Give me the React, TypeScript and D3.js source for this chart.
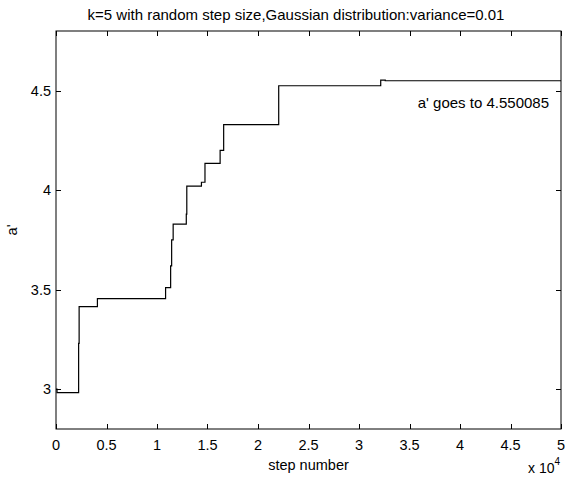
import React, { useEffect, useRef } from "react";
import * as d3 from "d3";

const stepNumbers = [0, 100, 2240, 2290, 4100, 10850, 11350, 11450, 11600, 12900, 12950, 14400, 14750, 16250, 16600, 22050, 32150, 32600, 50000];
const aValues = [3.0, 2.983, 3.23, 3.415, 3.455, 3.51, 3.62, 3.75, 3.83, 3.88, 4.02, 4.04, 4.135, 4.2, 4.33, 4.525, 4.553, 4.55, 4.55];
const xTicks = [0, 0.5, 1, 1.5, 2, 2.5, 3, 3.5, 4, 4.5, 5];
const yTicks = [3, 3.5, 4, 4.5];
const titleText = "k=5 with random step size,Gaussian distribution:variance=0.01";
const xLabel = "step number";
const yLabel = "a'";
const annotation = "a' goes to 4.550085";

const W = 565;
const H = 478;
const M = { left: 56, right: 4, top: 31, bottom: 49 };
const FONT = "'Liberation Sans', Arial, Helvetica, sans-serif";

export default function App() {
  const ref = useRef<SVGSVGElement>(null);
  useEffect(() => {
    const svg = d3.select(ref.current);
    svg.selectAll("*").remove();
    const x = d3.scaleLinear().domain([0, 5]).range([M.left, W - M.right]);
    const y = d3.scaleLinear().domain([2.8, 4.8]).range([H - M.bottom, M.top]);
    svg.append("rect").attr("width", W).attr("height", H).attr("fill", "#fff");

    const g = svg.append("g");
    const tl = 5;
    g.append("rect")
      .attr("x", x(0)).attr("y", y(4.8))
      .attr("width", x(5) - x(0)).attr("height", y(2.8) - y(4.8))
      .attr("fill", "none").attr("stroke", "#000").attr("stroke-width", 1);
    xTicks.forEach((t) => {
      const px = Math.round(x(t)) + 0.5;
      g.append("line").attr("x1", px).attr("x2", px).attr("y1", y(2.8)).attr("y2", y(2.8) - tl).attr("stroke", "#000");
      g.append("line").attr("x1", px).attr("x2", px).attr("y1", y(4.8)).attr("y2", y(4.8) + tl).attr("stroke", "#000");
      g.append("text").attr("x", x(t)).attr("y", y(2.8) + 21)
        .attr("text-anchor", "middle").attr("font-family", FONT).attr("font-size", 14.5).attr("fill", "#000")
        .text(String(t));
    });
    yTicks.forEach((t) => {
      const py = Math.round(y(t)) + 0.5;
      g.append("line").attr("x1", x(0)).attr("x2", x(0) + tl).attr("y1", py).attr("y2", py).attr("stroke", "#000");
      g.append("line").attr("x1", x(5)).attr("x2", x(5) - tl).attr("y1", py).attr("y2", py).attr("stroke", "#000");
      g.append("text").attr("x", x(0) - 5).attr("y", y(t) + 5)
        .attr("text-anchor", "end").attr("font-family", FONT).attr("font-size", 14.5).attr("fill", "#000")
        .text(String(t));
    });

    const pts: [number, number][] = stepNumbers.map((s, i) => [s / 1e4, aValues[i]]);
    const line = d3.line<[number, number]>().x((d) => x(d[0])).y((d) => y(d[1])).curve(d3.curveStepAfter);
    g.append("path").attr("d", line(pts)).attr("fill", "none").attr("stroke", "#000").attr("stroke-width", 1.2);

    svg.append("text").attr("x", 296).attr("y", 20).attr("text-anchor", "middle")
      .attr("font-family", FONT).attr("font-size", 15).attr("fill", "#000").text(titleText);
    svg.append("text").attr("x", (x(0) + x(5)) / 2).attr("y", 470).attr("text-anchor", "middle")
      .attr("font-family", FONT).attr("font-size", 14.5).attr("fill", "#000").text(xLabel);
    const xe = svg.append("text").attr("x", 528).attr("y", 473)
      .attr("font-family", FONT).attr("font-size", 14).attr("fill", "#000");
    xe.append("tspan").text("x 10");
    xe.append("tspan").attr("dy", -8).attr("font-size", 10).text("4");
    svg.append("text").attr("transform", `translate(17,${(y(2.8) + y(4.8)) / 2}) rotate(-90)`)
      .attr("text-anchor", "middle").attr("font-family", FONT).attr("font-size", 14.5).attr("fill", "#000").text(yLabel);
    svg.append("text").attr("x", 549).attr("y", 108).attr("text-anchor", "end")
      .attr("font-family", FONT).attr("font-size", 15).attr("fill", "#000").text(annotation);
  }, []);
  return (
    <div style={{ position: "absolute", left: 0, top: 0 }}>
      <svg ref={ref} width={W} height={H} style={{ display: "block" }} />
    </div>
  );
}
